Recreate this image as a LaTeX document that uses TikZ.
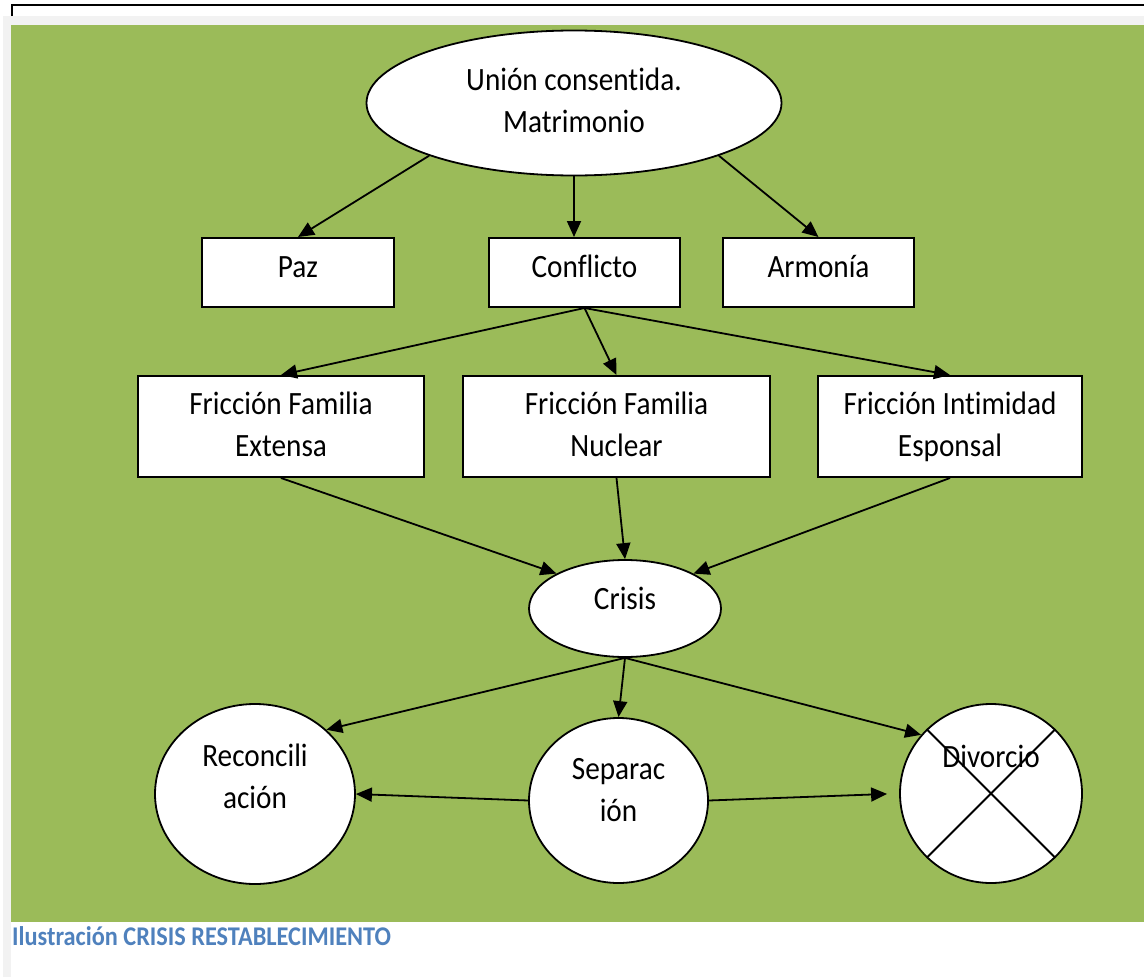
\documentclass[tikz,border=0pt]{standalone}
\usepackage{fontspec}
\setmainfont{Carlito}[FakeStretch=0.9,Ligatures=NoCommon]
\usetikzlibrary{shapes.geometric,arrows.meta,calc}
\definecolor{bggreen}{HTML}{9BBB59}
\definecolor{capblue}{HTML}{4F81BD}
\definecolor{edgegray}{HTML}{F2F2F2}
\newcommand{\nodetext}[2]{\raisebox{#1}[\height][\depth]{\begin{tabular}{@{}c@{}}#2\end{tabular}}}
\begin{document}
\begin{tikzpicture}[x=1pt,y=-1pt,
  box/.style={draw=black,line width=2pt,fill=white,rectangle,inner sep=0pt,font=\fontsize{32.5}{42}\selectfont},
  oval/.style={draw=black,line width=1.8pt,fill=white,ellipse,inner sep=0pt,font=\fontsize{32.5}{42}\selectfont},
  conn/.style={line width=1.8pt,-{Triangle[length=16pt,width=14pt]}}]
\useasboundingbox (0,0) rectangle (1144,977);
% background
\fill[edgegray] (3,16) rectangle (1144,977);
\fill[white] (11,25) rectangle (1144,977);
\fill[bggreen] (11,25) rectangle (1144,922);
\draw[line width=2pt] (12,16) -- (12,5) -- (1144,5);
% nodes
\node[oval,minimum width=415pt,minimum height=145pt] (top) at (574,103) {\nodetext{0pt}{Unión consentida.\\Matrimonio}};
\node[box,minimum width=192pt,minimum height=69pt] (paz) at (298,272.5) {\nodetext{3.5pt}{Paz}};
\node[box,minimum width=191pt,minimum height=69pt] (conf) at (584.5,272.5) {\nodetext{3.5pt}{Conflicto}};
\node[box,minimum width=191pt,minimum height=69pt] (arm) at (818.5,272.5) {\nodetext{3.5pt}{Armonía}};
\node[box,minimum width=286pt,minimum height=101pt] (ext) at (281,426.5) {\nodetext{-1pt}{Fricción Familia\\Extensa}};
\node[box,minimum width=307pt,minimum height=101pt] (nuc) at (616.5,426.5) {\nodetext{-1pt}{Fricción Familia\\Nuclear}};
\node[box,minimum width=264pt,minimum height=101pt] (esp) at (950,426.5) {\nodetext{-1pt}{Fricción Intimidad\\Esponsal}};
\node[oval,minimum width=192pt,minimum height=97pt] (crisis) at (625,608.5) {\nodetext{7pt}{Crisis}};
\node[oval,minimum width=200pt,minimum height=180pt] (rec) at (255,794) {\nodetext{15pt}{Reconcili\\ación}};
\node[oval,minimum width=179pt,minimum height=165pt] (sep) at (618.5,800.5) {\nodetext{8pt}{Separac\\ión}};
\node[oval,minimum width=182pt,minimum height=179pt] (div) at (991,793.5) {\nodetext{34pt}{Divorcio}};
\draw[line width=1.8pt] (div.45) -- (div.225);
\draw[line width=1.8pt] (div.135) -- (div.315);
% caption
\node[anchor=base west,inner sep=0pt,font=\fontsize{27}{32}\selectfont\bfseries,text=capblue] (caption) at (12,945) {Ilustración CRISIS RESTABLECIMIENTO};
% connectors
\draw[conn] (top.200) -- (paz.north);
\draw[conn] (top.south) -- (top.south |- conf.north);
\draw[conn] (top.340) -- (arm.north);
\draw[conn] (conf.south) -- (ext.north);
\draw[conn] (conf.south) -- (nuc.north);
\draw[conn] (conf.south) -- (esp.north);
\draw[conn] (ext.south) -- (crisis.153);
\draw[conn] (nuc.south) -- (crisis.north);
\draw[conn] (esp.south) -- (crisis.27);
\draw[conn] (crisis.south) -- (rec.42);
\draw[conn] (crisis.south) -- (sep.north);
\draw[conn] (crisis.south) -- (div.140);
\draw[conn] (sep.west) -- (rec.east);
\draw[conn,shorten >=12pt] (sep.east) -- (div.west);
\end{tikzpicture}
\end{document}
